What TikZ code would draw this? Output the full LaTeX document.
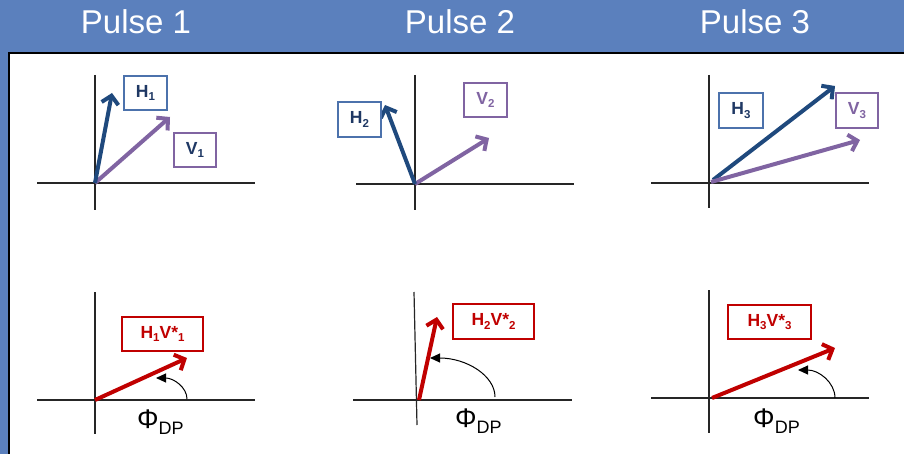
\documentclass[tikz,border=0pt]{standalone}
\usepackage{fontspec}
\setmainfont{Liberation Sans}
\usetikzlibrary{arrows.meta}
\definecolor{bgblue}{HTML}{5B80BD}
\definecolor{navyarrow}{HTML}{1F497D}
\definecolor{navytext}{HTML}{1F3864}
\definecolor{hbox}{HTML}{4C72AC}
\definecolor{purp}{HTML}{8064A2}
\definecolor{redv}{HTML}{C00000}
\newcommand{\sbs}[1]{\raisebox{-3.5pt}{\fontsize{11.5}{11.5}\selectfont #1}}
\newcommand{\phidp}{{\fontsize{27}{27}\selectfont Φ}\raisebox{-6pt}{\fontsize{18}{18}\selectfont DP}}
\tikzset{
  axis/.style={line width=1.2pt, draw=black!85},
  vecarrow/.style={line width=4pt, -{Straight Barb[length=8pt,width=17pt]}},
  labbox/.style={line width=1.3pt, fill=white, inner sep=0pt, font=\fontsize{17.5}{17.5}\selectfont\bfseries},
  hlab/.style={labbox, draw=hbox, text=navytext},
  vlab/.style={labbox, draw=purp, text=purp},
  rlab/.style={labbox, draw=redv, text=redv},
  anglearc/.style={line width=1pt, black, -{Triangle[length=10pt,width=9pt]}},
  pulsehead/.style={text=white, anchor=base, font=\fontsize{33}{33}\selectfont},
  philab/.style={anchor=base west, inner sep=0pt, text=black}
}
\begin{document}
\begin{tikzpicture}[x=1pt,y=-1pt]
\useasboundingbox (0,0) rectangle (904,454);
\fill[bgblue] (0,0) rectangle (904,454);
\draw[line width=2.2pt, fill=white] (9,53) rectangle (920,470);

% headers
\node[pulsehead] (p1) at (136,34) {Pulse 1};
\node[pulsehead] (p2) at (460,34) {Pulse 2};
\node[pulsehead] (p3) at (755,34) {Pulse 3};

% ---------- top row axes ----------
\coordinate (t1n) at (95,75);  \coordinate (t1s) at (95,210);
\coordinate (t1w) at (37,183); \coordinate (t1e) at (255,183);
\coordinate (t2n) at (415,75);  \coordinate (t2s) at (415,210);
\coordinate (t2w) at (356,184); \coordinate (t2e) at (574,184);
\coordinate (t3n) at (709,75);  \coordinate (t3s) at (709,208);
\coordinate (t3w) at (651,183); \coordinate (t3e) at (869,183);
\draw[axis] (t1n) -- (t1s); \draw[axis] (t1w) -- (t1e);
\draw[axis] (t2n) -- (t2s); \draw[axis] (t2w) -- (t2e);
\draw[axis] (t3n) -- (t3s); \draw[axis] (t3w) -- (t3e);

% ---------- bottom row axes ----------
\coordinate (b1n) at (95,292);  \coordinate (b1s) at (95,434);
\coordinate (b1w) at (37,400);  \coordinate (b1e) at (255,400);
\coordinate (b2n) at (414,292); \coordinate (b2s) at (417,425);
\coordinate (b2w) at (353,400); \coordinate (b2e) at (572,400);
\coordinate (b3n) at (709,290); \coordinate (b3s) at (709,433);
\coordinate (b3w) at (651,398); \coordinate (b3e) at (869,398);
\draw[axis] (b1n) -- (b1s); \draw[axis] (b1w) -- (b1e);
\draw[axis] (b2n) -- (b2s); \draw[axis] (b2w) -- (b2e);
\draw[axis] (b3n) -- (b3s); \draw[axis] (b3w) -- (b3e);

% ---------- top row vectors ----------
\coordinate (o1) at (95,183);
\coordinate (h1tip) at (112,93);
\coordinate (v1tip) at (170,117);
\draw[vecarrow, purp] (o1) -- (v1tip);
\draw[vecarrow, navyarrow] (o1) -- (h1tip);
\node[hlab, minimum width=43pt, minimum height=34pt] (H1) at (145.5,93) {H\sbs{1}};
\node[vlab, text=navytext, minimum width=42pt, minimum height=34pt] (V1) at (195,150) {V\sbs{1}};

\coordinate (o2) at (415,184);
\coordinate (h2tip) at (385,105);
\coordinate (v2tip) at (489,138);
\draw[vecarrow, purp] (o2) -- (v2tip);
\draw[vecarrow, navyarrow] (o2) -- (h2tip);
\node[hlab, minimum width=43pt, minimum height=35pt] (H2) at (359.5,119.5) {H\sbs{2}};
\node[vlab, minimum width=43pt, minimum height=34pt] (V2) at (485.5,100) {V\sbs{2}};

\coordinate (o3h) at (713,180);
\coordinate (o3v) at (711,182);
\coordinate (h3tip) at (835,86);
\coordinate (v3tip) at (860,140);
\draw[vecarrow, navyarrow] (o3h) -- (h3tip);
\draw[vecarrow, purp] (o3v) -- (v3tip);
\node[hlab, minimum width=44pt, minimum height=35pt] (H3) at (741,110.5) {H\sbs{3}};
\node[vlab, minimum width=42pt, minimum height=35pt] (V3) at (857,110.5) {V\sbs{3}};

% ---------- bottom row vectors ----------
\coordinate (q1) at (95,400);
\coordinate (r1tip) at (187,358);
\draw[vecarrow, redv] (q1) -- (r1tip);
\node[rlab, minimum width=81pt, minimum height=34pt] (R1) at (162.5,334) {H\sbs{1}V*\sbs{1}};
\coordinate (a1s) at (187,399);
\coordinate (a1e) at (156,378);
\draw[anglearc] (a1s) .. controls (187,387.4) and (173.6,378) .. (a1e);
\node[philab] (phi1) at (137,428) {\phidp};

\coordinate (q2) at (419,400);
\coordinate (r2tip) at (437,317);
\draw[vecarrow, redv] (q2) -- (r2tip);
\node[rlab, minimum width=81pt, minimum height=35pt] (R2) at (493.5,321.5) {H\sbs{2}V*\sbs{2}};
\coordinate (a2s) at (495,397);
\coordinate (a2e) at (430,358);
\draw[anglearc] (a2s) .. controls (495,375.5) and (466.3,358) .. (a2e);
\node[philab] (phi2) at (455,427) {\phidp};

\coordinate (q3) at (712,398);
\coordinate (r3tip) at (835,348);
\draw[vecarrow, redv] (q3) -- (r3tip);
\node[rlab, minimum width=83pt, minimum height=34pt] (R3) at (769.5,322) {H\sbs{3}V*\sbs{3}};
\coordinate (a3s) at (835,398);
\coordinate (a3e) at (798,370);
\draw[anglearc] (a3s) .. controls (835,382.5) and (818.9,370) .. (a3e);
\node[philab] (phi3) at (753,427) {\phidp};
\end{tikzpicture}
\end{document}
